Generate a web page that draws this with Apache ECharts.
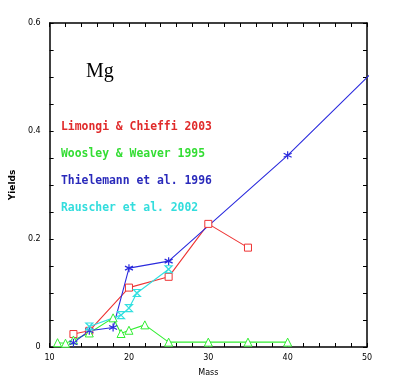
<!DOCTYPE html>
<html><head><meta charset="utf-8">
<script src="https://cdn.jsdelivr.net/npm/echarts@6/dist/echarts.min.js"></script>
<style>html,body{margin:0;padding:0;background:#fff}#c{width:400px;height:384px}</style>
</head><body><div id="c"></div>
<script>
const limongiMass = [13, 15, 20, 25, 30, 35];
const limongiYield = [0.024, 0.030, 0.110, 0.130, 0.228, 0.184];
const woosleyMass = [11, 12, 13, 15, 18, 19, 20, 22, 25, 30, 35, 40];
const woosleyYield = [0.008, 0.007, 0.013, 0.026, 0.054, 0.025, 0.031, 0.041, 0.009, 0.009, 0.009, 0.009];
const thielemannMass = [13, 15, 18, 20, 25, 40, 70];
const thielemannYield = [0.008, 0.030, 0.036, 0.146, 0.159, 0.355, 0.787];
const rauscherMass = [15, 19, 20, 21, 25];
const rauscherYield = [0.038, 0.059, 0.072, 0.100, 0.144];
const seriesNames = ['Limongi & Chieffi 2003', 'Woosley & Weaver 1995', 'Thielemann et al. 1996', 'Rauscher et al. 2002'];
const xTicks = [10, 20, 30, 40, 50];
const yTicks = [0, 0.2, 0.4, 0.6];

const pair = (xs, ys) => xs.map((x, i) => [x, ys[i]]);
const isLabel = (v, arr) => arr.some(t => Math.abs(t - v) < 1e-6);
const fmtY = v => isLabel(v, yTicks) ? (Math.abs(v) < 1e-9 ? '0' : String(+v.toFixed(1))) : '';
const fmtX = v => isLabel(v, xTicks) ? String(Math.round(v)) : '';

const chart = echarts.init(document.getElementById('c'), null, {renderer: 'canvas'});
const axisCommon = {
  axisLine: {show: true, onZero: false, lineStyle: {color: '#000', width: 1.5}},
  axisTick: {show: true, inside: true, length: 4, lineStyle: {color: '#000', width: 1}},
  splitLine: {show: false}
};
const labelStyle = {color: '#000', fontFamily: 'DejaVu Sans', fontSize: 8};
const cRed = '#ee3333', cGreen = '#33ee33', cBlue = '#2a2add', cCyan = '#33e0e0';
const star = 'path://M0,-1L0,1M-0.87,-0.5L0.87,0.5M-0.87,0.5L0.87,-0.5';
const bowtie = 'path://M-1,-1L1,-1L-1,1L1,1Z';

chart.setOption({
  animation: false,
  backgroundColor: '#fff',
  grid: {left: 45, right: 33, top: 23, bottom: 37, containLabel: false},
  xAxis: [
    Object.assign({type: 'value', position: 'bottom', min: 10, max: 50, interval: 2,
      name: 'Mass', nameLocation: 'middle', nameGap: 22,
      nameTextStyle: {color: '#000', fontFamily: 'DejaVu Sans', fontSize: 8},
      axisLabel: Object.assign({formatter: fmtX, margin: 7, showMinLabel: true, showMaxLabel: true}, labelStyle)}, axisCommon),
    Object.assign({type: 'value', position: 'top', min: 10, max: 50, interval: 2,
      axisLabel: {show: false}}, axisCommon)
  ],
  yAxis: [
    Object.assign({type: 'value', position: 'left', min: 0, max: 0.6, interval: 0.05,
      name: 'Yields', nameLocation: 'middle', nameGap: 25, nameRotate: 90,
      nameTextStyle: {color: '#000', fontFamily: 'DejaVu Sans', fontSize: 9, fontWeight: 'bold'},
      axisLabel: Object.assign({formatter: fmtY, margin: 9, showMinLabel: true, showMaxLabel: true}, labelStyle)}, axisCommon),
    Object.assign({type: 'value', position: 'right', min: 0, max: 0.6, interval: 0.05,
      axisLabel: {show: false}}, axisCommon)
  ],
  series: [
    {name: seriesNames[0], type: 'line', data: pair(limongiMass, limongiYield), symbol: 'rect', symbolSize: 7,
      lineStyle: {color: cRed, width: 1.1}, itemStyle: {color: '#fff', borderColor: cRed, borderWidth: 1}, clip: true},
    {name: seriesNames[1], type: 'line', data: pair(woosleyMass, woosleyYield), symbol: 'triangle', symbolSize: 8,
      lineStyle: {color: cGreen, width: 1.1}, itemStyle: {color: '#fff', borderColor: cGreen, borderWidth: 1}, clip: true},
    {name: seriesNames[2], type: 'line', data: pair(thielemannMass, thielemannYield), symbol: star, symbolSize: 8,
      lineStyle: {color: cBlue, width: 1.1}, itemStyle: {color: 'none', borderColor: cBlue, borderWidth: 1.2}, clip: true},
    {name: seriesNames[3], type: 'line', data: pair(rauscherMass, rauscherYield), symbol: bowtie, symbolSize: 7,
      lineStyle: {color: cCyan, width: 1.1}, itemStyle: {color: 'none', borderColor: cCyan, borderWidth: 1.2}, clip: true}
  ],
  graphic: [
    {type: 'text', left: 86, top: 62, style: {text: 'Mg', fill: '#000', font: '20px "Liberation Serif"'}},
    {type: 'text', left: 61, top: 122, style: {text: seriesNames[0], fill: '#e02a2a', font: 'bold 11.4px "DejaVu Sans Mono"'}},
    {type: 'text', left: 61, top: 149, style: {text: seriesNames[1], fill: '#33dd33', font: 'bold 11.4px "DejaVu Sans Mono"'}},
    {type: 'text', left: 61, top: 176, style: {text: seriesNames[2], fill: '#2a2abb', font: 'bold 11.4px "DejaVu Sans Mono"'}},
    {type: 'text', left: 61, top: 203, style: {text: seriesNames[3], fill: '#33dddd', font: 'bold 11.4px "DejaVu Sans Mono"'}}
  ]
});
</script></body></html>
